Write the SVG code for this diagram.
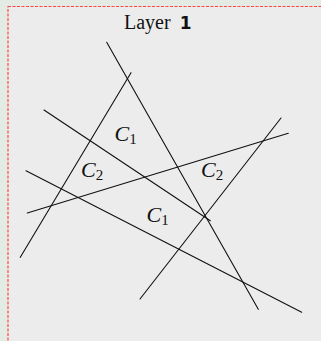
<svg xmlns="http://www.w3.org/2000/svg" width="321" height="341" viewBox="0 0 321 341">
<style>
.ln{stroke:#111;stroke-width:1.1;fill:none;stroke-linecap:round}
.lbl{font-family:"Liberation Serif",serif;font-style:italic;font-size:22px;fill:#111}
.sub{font-family:"Liberation Serif",serif;font-style:normal;font-size:15px}
</style>
<rect x="0" y="0" width="321" height="341" fill="#e4ebe4"/>
<rect x="8" y="6.5" width="330" height="350" fill="#ececec" stroke="#ff4444" stroke-width="1.2" stroke-dasharray="3,1.5"/>
<g id="title">
<text x="124" y="28.5" font-size="20" fill="#111"><tspan font-family="Liberation Serif,serif">Layer</tspan><tspan font-family="DejaVu Sans,sans-serif" font-weight="600" font-size="17" dx="9">1</tspan></text>
</g>
<g id="connectors">
<line class="ln" x1="106.7" y1="42.3" x2="258.3" y2="309.3"/>
<line class="ln" x1="131" y1="72.7" x2="20.3" y2="257.3"/>
<line class="ln" x1="44" y1="110" x2="210.3" y2="220.7"/>
<line class="ln" x1="26" y1="170.7" x2="301.7" y2="312.3"/>
<line class="ln" x1="27.3" y1="213" x2="288.3" y2="133.3"/>
<line class="ln" x1="140" y1="299" x2="281" y2="118"/>
</g>
<g id="label-c1-top"><text class="lbl" x="114.5" y="140.7">C<tspan class="sub" dy="3.5">1</tspan></text></g>
<g id="label-c2-left"><text class="lbl" x="81" y="176.7">C<tspan class="sub" dy="3.5">2</tspan></text></g>
<g id="label-c2-right"><text class="lbl" x="201" y="176.7">C<tspan class="sub" dy="3.5">2</tspan></text></g>
<g id="label-c1-bottom"><text class="lbl" x="146.5" y="221.7">C<tspan class="sub" dy="3.5">1</tspan></text></g>
</svg>
